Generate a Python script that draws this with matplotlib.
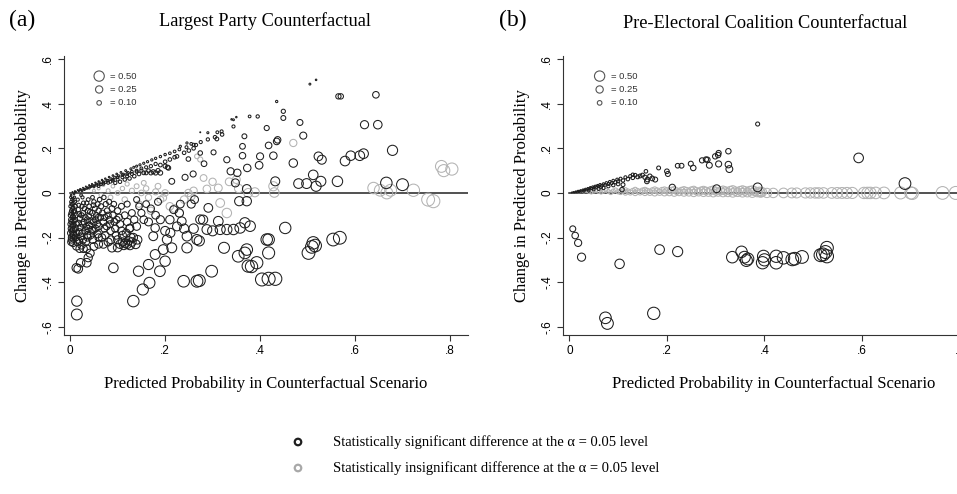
import matplotlib
matplotlib.use("Agg")
import matplotlib.pyplot as plt
import numpy as np

# (x, change) pairs; marker area follows the
# original probability, i.e. x - change
sig_a = [
    # thin wedge of dots above the line
    (0.005, 0.004), (0.01, 0.008), (0.012, 0.005), (0.016, 0.013), (0.018, 0.009),
    (0.021, 0.018), (0.024, 0.014), (0.027, 0.023), (0.03, 0.018), (0.033, 0.029),
    (0.036, 0.024), (0.04, 0.035), (0.043, 0.028), (0.046, 0.04), (0.05, 0.033),
    (0.053, 0.046), (0.056, 0.04), (0.06, 0.052), (0.063, 0.045), (0.067, 0.058),
    (0.07, 0.05), (0.074, 0.064), (0.078, 0.056), (0.082, 0.071), (0.086, 0.063),
    (0.09, 0.078), (0.094, 0.07), (0.098, 0.085), (0.102, 0.076), (0.107, 0.092),
    (0.112, 0.083), (0.117, 0.1), (0.122, 0.09), (0.128, 0.108), (0.134, 0.115),
    (0.14, 0.12), (0.147, 0.126), (0.155, 0.133), (0.163, 0.14), (0.172, 0.148),
    (0.18, 0.155), (0.19, 0.163), (0.2, 0.172), (0.21, 0.178), (0.22, 0.186),
    (0.23, 0.195), (0.245, 0.205), (0.26, 0.216), (0.275, 0.228), (0.29, 0.24),
    (0.305, 0.25), (0.32, 0.262), (0.34, 0.33), (0.35, 0.34), (0.435, 0.41),
    (0.505, 0.488), (0.518, 0.507),
    (0.01, 0.005), (0.02, 0.012), (0.025, 0.01), (0.03, 0.015), (0.035, 0.02),
    (0.04, 0.022), (0.045, 0.03), (0.05, 0.028), (0.055, 0.035), (0.06, 0.04),
    (0.065, 0.038), (0.07, 0.045), (0.075, 0.048), (0.08, 0.055), (0.085, 0.05),
    (0.09, 0.06), (0.1, 0.07), (0.11, 0.08), (0.12, 0.085), (0.13, 0.095),
    (0.14, 0.1), (0.15, 0.11), (0.16, 0.115), (0.17, 0.12), (0.18, 0.13),
    (0.19, 0.125), (0.2, 0.14), (0.21, 0.15), (0.22, 0.16), (0.24, 0.18),
    (0.25, 0.19), (0.26, 0.2),
    # circles above the line
    (0.06, 0.03), (0.07, 0.04), (0.08, 0.045), (0.09, 0.055), (0.095, 0.045),
    (0.1, 0.06), (0.105, 0.05), (0.11, 0.07), (0.115, 0.06), (0.12, 0.075),
    (0.125, 0.065), (0.13, 0.085), (0.135, 0.075), (0.14, 0.095), (0.145, 0.085),
    (0.15, 0.1), (0.155, 0.09), (0.16, 0.09), (0.165, 0.1), (0.17, 0.09),
    (0.175, 0.095), (0.18, 0.09), (0.185, 0.1), (0.19, 0.09), (0.2, 0.12),
    (0.205, 0.115), (0.207, 0.112), (0.214, 0.052), (0.225, 0.164), (0.232, 0.209),
    (0.246, 0.224), (0.255, 0.22), (0.265, 0.215), (0.274, 0.272), (0.29, 0.27),
    (0.31, 0.272), (0.242, 0.07), (0.249, 0.152), (0.259, 0.085), (0.274, 0.179),
    (0.282, 0.131), (0.302, 0.182), (0.309, 0.242), (0.319, 0.276), (0.33, 0.149),
    (0.338, 0.097), (0.344, 0.298), (0.344, 0.328), (0.348, 0.045), (0.352, 0.09),
    (0.363, 0.167), (0.363, 0.209), (0.367, 0.254), (0.372, 0.018), (0.373, 0.112),
    (0.378, 0.343), (0.395, 0.343), (0.398, 0.124), (0.4, 0.164), (0.414, 0.291),
    (0.418, 0.213), (0.428, 0.167), (0.432, 0.052), (0.435, 0.231), (0.437, 0.238),
    (0.449, 0.366), (0.449, 0.336), (0.47, 0.134), (0.481, 0.042), (0.484, 0.316),
    (0.491, 0.257), (0.498, 0.042), (0.512, 0.081), (0.518, 0.03), (0.523, 0.164),
    (0.528, 0.052), (0.53, 0.149), (0.563, 0.052), (0.565, 0.433), (0.57, 0.433),
    (0.579, 0.143), (0.591, 0.167), (0.61, 0.167), (0.618, 0.176), (0.62, 0.306),
    (0.644, 0.44), (0.648, 0.306), (0.666, 0.045), (0.679, 0.191), (0.7, 0.037),
    # dense block below the line near zero
    (0.002, -0.01), (0.004, -0.03), (0.003, -0.05), (0.005, -0.07), (0.002, -0.09),
    (0.006, -0.11), (0.003, -0.13), (0.005, -0.15), (0.004, -0.17), (0.007, -0.19),
    (0.003, -0.21), (0.008, -0.005), (0.009, -0.02), (0.01, -0.04), (0.011, -0.06),
    (0.009, -0.08), (0.012, -0.1), (0.01, -0.12), (0.013, -0.14), (0.011, -0.16),
    (0.014, -0.18), (0.012, -0.2), (0.015, -0.22), (0.013, -0.24), (0.016, -0.03),
    (0.018, -0.055), (0.017, -0.075), (0.019, -0.095), (0.02, -0.115), (0.018, -0.135),
    (0.021, -0.155), (0.02, -0.175), (0.022, -0.195), (0.019, -0.215), (0.024, -0.235),
    (0.02, -0.25), (0.026, -0.02), (0.028, -0.045), (0.03, -0.07), (0.027, -0.09),
    (0.032, -0.11), (0.029, -0.13), (0.034, -0.15), (0.031, -0.17), (0.036, -0.19),
    (0.033, -0.22), (0.038, -0.03), (0.04, -0.06), (0.042, -0.085), (0.039, -0.105),
    (0.044, -0.125), (0.041, -0.145), (0.046, -0.165), (0.043, -0.19), (0.048, -0.21),
    (0.05, -0.04), (0.052, -0.07), (0.055, -0.1), (0.053, -0.12), (0.057, -0.14),
    (0.054, -0.16), (0.058, -0.185), (0.06, -0.2), (0.062, -0.03), (0.065, -0.06),
    (0.068, -0.09), (0.064, -0.11), (0.07, -0.13), (0.072, -0.16), (0.075, -0.05),
    (0.078, -0.08), (0.08, -0.1), (0.083, -0.12), (0.077, -0.15), (0.085, -0.17),
    (0.088, -0.07), (0.09, -0.1), (0.093, -0.13), (0.095, -0.16), (0.097, -0.19),
    (0.1, -0.08), (0.103, -0.11), (0.105, -0.14), (0.108, -0.17), (0.1, -0.21),
    (0.105, -0.23), (0.11, -0.22), (0.113, -0.235), (0.116, -0.225), (0.12, -0.23),
    (0.123, -0.215), (0.126, -0.235), (0.13, -0.22), (0.133, -0.2), (0.115, -0.1),
    (0.12, -0.13), (0.125, -0.16), (0.13, -0.09), (0.135, -0.12), (0.14, -0.15),
    (0.145, -0.06), (0.15, -0.09), (0.155, -0.12), (0.16, -0.05),
    (0.001, -0.02), (0.002, -0.04), (0.001, -0.06), (0.003, -0.08), (0.001, -0.1),
    (0.002, -0.12), (0.001, -0.14), (0.002, -0.16), (0.001, -0.18), (0.003, -0.2),
    (0.002, -0.22), (0.006, -0.025), (0.007, -0.045), (0.006, -0.065), (0.007, -0.085),
    (0.006, -0.105), (0.007, -0.125), (0.006, -0.145), (0.007, -0.165), (0.006, -0.185),
    (0.007, -0.205), (0.006, -0.225), (0.023, -0.01), (0.025, -0.06), (0.024, -0.1),
    (0.026, -0.14), (0.025, -0.18), (0.027, -0.21), (0.035, -0.045), (0.037, -0.08),
    (0.036, -0.12), (0.038, -0.16), (0.037, -0.2), (0.047, -0.02), (0.049, -0.055),
    (0.047, -0.09), (0.049, -0.13), (0.048, -0.17), (0.058, -0.05), (0.06, -0.08),
    (0.059, -0.11), (0.061, -0.15), (0.067, -0.2), (0.071, -0.02), (0.073, -0.11),
    (0.074, -0.19), (0.082, -0.04), (0.084, -0.14), (0.086, -0.21), (0.092, -0.05),
    (0.098, -0.12), (0.108, -0.06), (0.11, -0.19), (0.118, -0.18), (0.128, -0.2),
    (0.138, -0.23), (0.142, -0.21), (0.07, -0.23), (0.08, -0.22), (0.06, -0.23),
    (0.05, -0.24), (0.035, -0.25), (0.028, -0.25),
    # scattered circles below the line
    (0.013, -0.336), (0.017, -0.34), (0.022, -0.313), (0.035, -0.313), (0.038, -0.29),
    (0.042, -0.27), (0.014, -0.485), (0.014, -0.545), (0.088, -0.246), (0.091, -0.336),
    (0.1, -0.245), (0.126, -0.157), (0.133, -0.485), (0.144, -0.351), (0.153, -0.433),
    (0.165, -0.321), (0.167, -0.403), (0.175, -0.194), (0.179, -0.157), (0.179, -0.276),
    (0.189, -0.351), (0.196, -0.254), (0.2, -0.306), (0.204, -0.209), (0.19, -0.12),
    (0.2, -0.17), (0.211, -0.179), (0.214, -0.246), (0.218, -0.075), (0.232, -0.05),
    (0.235, -0.127), (0.239, -0.396), (0.246, -0.194), (0.246, -0.246), (0.262, -0.03),
    (0.267, -0.209), (0.272, -0.215), (0.267, -0.396), (0.272, -0.393), (0.274, -0.119),
    (0.288, -0.164), (0.291, -0.067), (0.298, -0.351), (0.3, -0.17), (0.312, -0.127),
    (0.316, -0.164), (0.324, -0.246), (0.33, -0.164), (0.344, -0.164), (0.354, -0.284),
    (0.356, -0.037), (0.358, -0.157), (0.368, -0.134), (0.368, -0.269), (0.372, -0.037),
    (0.372, -0.254), (0.375, -0.328), (0.379, -0.149), (0.382, -0.33), (0.393, -0.313),
    (0.404, -0.388), (0.414, -0.209), (0.418, -0.209), (0.418, -0.269), (0.418, -0.385),
    (0.432, -0.385), (0.453, -0.157), (0.502, -0.269), (0.509, -0.242), (0.512, -0.224),
    (0.516, -0.236), (0.554, -0.209), (0.568, -0.201),
    (0.17, -0.07), (0.18, -0.1), (0.165, -0.13), (0.185, -0.04), (0.14, -0.03),
    (0.12, -0.05), (0.21, -0.12), (0.225, -0.15), (0.23, -0.09), (0.255, -0.05),
    (0.26, -0.16), (0.28, -0.12), (0.24, -0.16),
]

insig_a = [
    (0.04, 0.03), (0.05, 0.01), (0.06, 0.02), (0.065, -0.01), (0.07, 0.035),
    (0.08, 0.01), (0.085, -0.02), (0.09, 0.03), (0.1, 0.0), (0.11, 0.02),
    (0.115, -0.03), (0.12, 0.04), (0.13, 0.01), (0.14, 0.03), (0.145, -0.05),
    (0.15, 0.0), (0.155, 0.045), (0.16, 0.02), (0.165, -0.02), (0.17, -0.08),
    (0.18, 0.005), (0.185, 0.03), (0.19, -0.03), (0.196, -0.022), (0.2, 0.0),
    (0.21, -0.06), (0.22, -0.07), (0.23, -0.09), (0.24, -0.03), (0.249, 0.0),
    (0.255, -0.015), (0.26, 0.01), (0.267, 0.164), (0.274, 0.15), (0.281, 0.067),
    (0.288, 0.018), (0.3, 0.05), (0.312, 0.022), (0.316, -0.045), (0.33, -0.09),
    (0.335, 0.05), (0.35, 0.06), (0.355, 0.02), (0.389, 0.003), (0.375, 0.0),
    (0.428, 0.03), (0.43, 0.002), (0.47, 0.224), (0.639, 0.022), (0.653, 0.012),
    (0.667, 0.0), (0.675, 0.012), (0.723, 0.012), (0.754, -0.03), (0.765, -0.037),
    (0.782, 0.119), (0.787, 0.1), (0.804, 0.107),
]

sig_b = [
    (0.005, 0.002), (0.008, 0.004), (0.01, 0.003), (0.013, 0.006), (0.015, 0.005),
    (0.018, 0.009), (0.02, 0.007), (0.023, 0.011), (0.025, 0.009), (0.028, 0.014),
    (0.03, 0.012), (0.033, 0.017), (0.035, 0.014), (0.038, 0.02), (0.04, 0.017),
    (0.043, 0.024), (0.045, 0.02), (0.048, 0.027), (0.05, 0.023), (0.053, 0.03),
    (0.055, 0.026), (0.058, 0.033), (0.06, 0.029), (0.063, 0.037), (0.066, 0.032),
    (0.07, 0.04), (0.073, 0.036), (0.076, 0.045), (0.08, 0.04), (0.083, 0.05),
    (0.087, 0.044), (0.09, 0.055), (0.094, 0.048), (0.098, 0.06), (0.1, 0.052),
    (0.105, 0.064), (0.11, 0.056), (0.115, 0.07), (0.12, 0.062), (0.125, 0.075),
    (0.13, 0.068), (0.135, 0.08), (0.14, 0.072), (0.145, 0.076), (0.15, 0.08),
    (0.155, 0.07), (0.16, 0.06), (0.165, 0.075),
    (0.02, 0.004), (0.03, 0.008), (0.04, 0.01), (0.05, 0.015), (0.06, 0.018),
    (0.07, 0.022), (0.08, 0.03), (0.09, 0.035), (0.1, 0.04), (0.065, 0.025),
    (0.11, 0.037), (0.108, 0.015), (0.13, 0.082), (0.159, 0.052), (0.157, 0.097),
    (0.17, 0.065), (0.176, 0.06), (0.183, 0.112), (0.2, 0.097), (0.202, 0.085),
    (0.211, 0.025), (0.222, 0.122), (0.23, 0.122), (0.249, 0.131), (0.254, 0.112),
    (0.272, 0.146), (0.28, 0.15), (0.283, 0.149), (0.287, 0.124), (0.299, 0.164),
    (0.302, 0.019), (0.305, 0.17), (0.306, 0.179), (0.306, 0.13), (0.326, 0.187),
    (0.326, 0.127), (0.328, 0.107), (0.386, 0.309), (0.386, 0.025), (0.593, 0.157),
    (0.688, 0.042),
    (0.007, -0.161), (0.012, -0.191), (0.018, -0.224), (0.025, -0.288), (0.074, -0.56),
    (0.078, -0.585), (0.103, -0.318), (0.173, -0.54), (0.185, -0.254), (0.222, -0.263),
    (0.334, -0.288), (0.353, -0.264), (0.359, -0.288), (0.363, -0.303), (0.366, -0.296),
    (0.398, -0.284), (0.396, -0.313), (0.4, -0.3), (0.424, -0.284), (0.424, -0.313),
    (0.439, -0.291), (0.457, -0.298), (0.462, -0.295), (0.477, -0.287), (0.515, -0.279),
    (0.52, -0.276), (0.528, -0.246), (0.528, -0.284), (0.525, -0.265),
]

insig_b = [
    (0.02, 0.003), (0.03, 0.005), (0.04, 0.004), (0.05, 0.006), (0.06, 0.005),
    (0.07, 0.007), (0.08, 0.006), (0.09, 0.008), (0.1, 0.006), (0.11, 0.009),
    (0.12, 0.007), (0.13, 0.009), (0.14, 0.008), (0.15, 0.01), (0.16, 0.008),
    (0.17, 0.01), (0.18, 0.009), (0.19, 0.011), (0.2, 0.009), (0.21, 0.011),
    (0.22, 0.008), (0.23, 0.01), (0.24, 0.009), (0.25, 0.011), (0.26, 0.008),
    (0.27, 0.01), (0.28, 0.009), (0.29, 0.011), (0.3, 0.008), (0.31, 0.01),
    (0.32, 0.009), (0.33, 0.011), (0.34, 0.008), (0.35, 0.01), (0.36, 0.009),
    (0.37, 0.01), (0.38, 0.008), (0.39, 0.006), (0.395, 0.004),
    (0.045, 0.002), (0.065, 0.003), (0.085, 0.002), (0.105, 0.003), (0.125, 0.002),
    (0.145, 0.003), (0.165, 0.002), (0.185, 0.003), (0.205, 0.002), (0.225, 0.003),
    (0.245, 0.002), (0.265, 0.003), (0.285, 0.002), (0.305, 0.003), (0.325, 0.002),
    (0.345, 0.003), (0.365, 0.002), (0.385, 0.003),
    (0.035, 0.008), (0.055, 0.01), (0.075, 0.012), (0.095, 0.013), (0.115, 0.013),
    (0.135, 0.014), (0.155, 0.013), (0.175, 0.014), (0.195, 0.013), (0.215, 0.014),
    (0.235, 0.013), (0.255, 0.014), (0.275, 0.013), (0.295, 0.014), (0.315, 0.013),
    (0.335, 0.014), (0.355, 0.013), (0.375, 0.012),
    (0.115, 0.001), (0.135, 0.0), (0.155, 0.001), (0.175, 0.0), (0.195, 0.001),
    (0.215, 0.0), (0.235, 0.001), (0.255, 0.0), (0.275, 0.001), (0.295, 0.0),
    (0.315, 0.001), (0.335, 0.0), (0.355, 0.001), (0.375, 0.0), (0.392, 0.001),
    (0.405, 0.0), (0.418, 0.0), (0.439, 0.0), (0.456, 0.0), (0.466, 0.0),
    (0.484, 0.0), (0.494, 0.0), (0.504, 0.0), (0.511, 0.0), (0.521, 0.0),
    (0.538, 0.0), (0.549, 0.0), (0.559, 0.0), (0.569, 0.0), (0.58, 0.0),
    (0.604, 0.0), (0.611, 0.0), (0.617, 0.0), (0.628, 0.0), (0.645, 0.0),
    (0.679, 0.0), (0.7, 0.0), (0.703, -0.002), (0.765, 0.0), (0.792, 0.0),
]

legend_weights = [0.50, 0.25, 0.10]
x_ticks = [0, 0.2, 0.4, 0.6, 0.8]
x_ticklabels = ["0", ".2", ".4", ".6", ".8"]
y_ticks = [-0.6, -0.4, -0.2, 0, 0.2, 0.4, 0.6]
y_ticklabels = ["-.6", "-.4", "-.2", "0", ".2", ".4", ".6"]

SIG = "#1e1e1e"
INSIG = "#b3b3b3"
SCALE = 110  # marker area (pt^2) per unit of original probability
SERIF = "Liberation Serif"
SANS = "Liberation Sans"


def sizes(pts):
    pts = np.array(pts)
    return pts[:, 0], pts[:, 1], SCALE * np.clip(pts[:, 0] - pts[:, 1], 0.004, None)


def draw_panel(ax, sig, insig, xmax):
    for pts, col in ((insig, INSIG), (sig, SIG)):
        x, y, s = sizes(pts)
        ax.scatter(x, y, s=s, facecolors="none", edgecolors=col, linewidths=0.75, zorder=3)
    ax.plot([0, xmax], [0, 0], color="#222222", lw=1.1, zorder=2)

    ax.set_xlim(-0.013, xmax)
    ax.set_ylim(-0.637, 0.614)
    for side in ("top", "right"):
        ax.spines[side].set_visible(False)
    for side in ("left", "bottom"):
        ax.spines[side].set_color("#333333")
        ax.spines[side].set_linewidth(0.8)
    ax.set_xticks(x_ticks)
    ax.set_xticklabels(x_ticklabels, fontsize=8.5, family=SANS)
    ax.set_yticks(y_ticks)
    ax.set_yticklabels(y_ticklabels, fontsize=8.5, family=SANS, rotation=90, va="center")
    ax.tick_params(length=4, width=0.8, color="#333333", pad=3)

    ax.set_xlabel("Predicted Probability in Counterfactual Scenario",
                  family=SERIF, fontsize=12, labelpad=14)
    ax.set_ylabel("Change in Predicted Probability", family=SERIF, fontsize=12, labelpad=8)

    # size key in the upper left corner
    for i, w in enumerate(legend_weights):
        yy = 0.928 - i * 0.048
        ax.scatter([0.087], [yy], s=SCALE * w, facecolors="none", edgecolors="#555555",
                   linewidths=0.8, transform=ax.transAxes, clip_on=False)
        ax.text(0.113, yy, "= %.2f" % w, transform=ax.transAxes, fontsize=6.8,
                family=SANS, va="center", color="#333333")
    return ax


fig = plt.figure(figsize=(9.57, 4.94), dpi=100)
ax1 = fig.add_axes([64 / 957, 1 - 335 / 494, 404 / 957, 279 / 494])
ax2 = fig.add_axes([563 / 957, 1 - 335 / 494, 421 / 957, 279 / 494])

draw_panel(ax1, sig_a, insig_a, 0.838)
draw_panel(ax2, sig_b, insig_b, 0.85)

fig.text(9 / 957, 1 - 20 / 494, "(a)", family=SERIF, fontsize=17, va="center")
fig.text(265 / 957, 1 - 21 / 494, "Largest Party Counterfactual", family=SERIF,
         fontsize=13.2, ha="center", va="center")
fig.text(499 / 957, 1 - 20 / 494, "(b)", family=SERIF, fontsize=17, va="center")
fig.text(765 / 957, 1 - 24 / 494, "Pre-Electoral Coalition Counterfactual", family=SERIF,
         fontsize=13.2, ha="center", va="center")

# bottom key for significance
key = fig.add_axes([0, 0, 1, 1], facecolor="none")
key.set_xlim(0, 957)
key.set_ylim(494, 0)
key.axis("off")
key_rows = [
    (442, SIG, "Statistically significant difference at the \u03b1 = 0.05 level"),
    (468, "#a8a8a8", "Statistically insignificant difference at the \u03b1 = 0.05 level"),
]
for yy, col, label in key_rows:
    key.scatter([298], [yy], s=22, facecolors="none", edgecolors=col, linewidths=1.6)
    key.text(333, yy, label, family=SERIF, fontsize=10.5, va="center")

fig.savefig("out.png", dpi=100)
